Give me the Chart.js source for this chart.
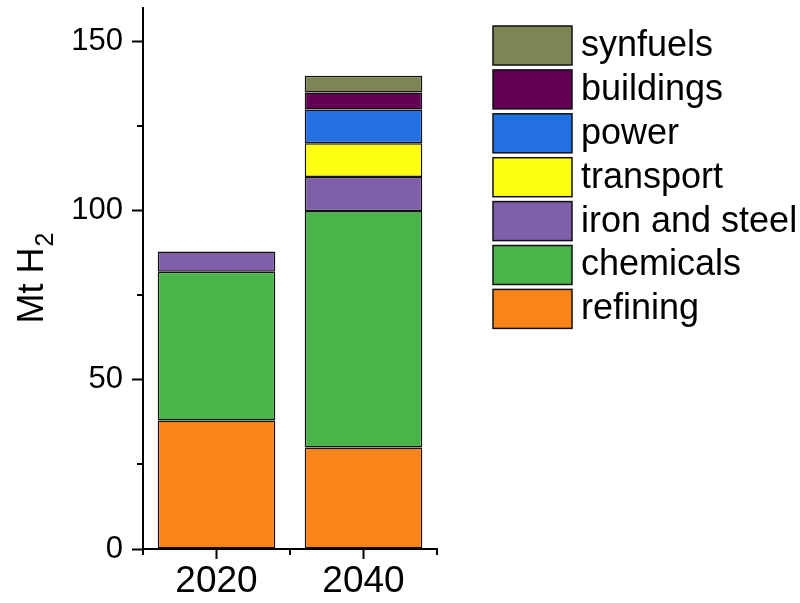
<!DOCTYPE html>
<html>
<head>
<meta charset="utf-8">
<script src="https://cdn.jsdelivr.net/npm/chart.js@4"></script>
<style>
  html, body { margin: 0; padding: 0; background: #fff; }
  #wrap { width: 800px; height: 603px; }
</style>
</head>
<body>
<div id="wrap"><canvas id="h2Chart" width="800" height="603"></canvas></div>
<script>
const years = ['2020', '2040'];

const refining = [38, 30];
const chemicals = [44, 70];
const ironSteel = [6, 10];
const transport = [0, 10];
const power = [0, 10];
const buildings = [0, 5];
const synfuels = [0, 5];

const yTicks = [0, 25, 50, 75, 100, 125, 150];

const FONT = 'Arial, "Liberation Sans", sans-serif';

function series(label, data, color) {
    return {
        label: label,
        data: data,
        backgroundColor: color,
        borderColor: '#111',
        borderWidth: 1.5,
        borderSkipped: false,
        barPercentage: 0.8,
        categoryPercentage: 1.0
    };
}

// minor ticks, y title and legend are drawn here
const extras = {
    id: 'extras',
    afterDraw(chart) {
        const ctx = chart.ctx;
        const x = chart.scales.x;
        const y = chart.scales.y;
        ctx.save();
        ctx.strokeStyle = '#000';
        ctx.lineWidth = 2;

        // minor y ticks
        yTicks.filter(v => v % 50 !== 0).forEach(v => {
            const py = Math.round(y.getPixelForValue(v));
            ctx.beginPath();
            ctx.moveTo(x.left - 6, py);
            ctx.lineTo(x.left, py);
            ctx.stroke();
        });

        // minor x ticks at category edges
        const half = (x.getPixelForValue(1) - x.getPixelForValue(0)) / 2;
        [x.getPixelForValue(0) - half, x.getPixelForValue(0) + half, x.getPixelForValue(1) + half].forEach(px => {
            ctx.beginPath();
            ctx.moveTo(px, y.bottom);
            ctx.lineTo(px, y.bottom + 6);
            ctx.stroke();
        });

        // y title: Mt H2 with subscript
        ctx.translate(43, (y.top + y.bottom) / 2);
        ctx.rotate(-Math.PI / 2);
        ctx.fillStyle = '#000';
        ctx.textBaseline = 'alphabetic';
        const main = 'Mt H';
        ctx.font = '36px ' + FONT;
        const w1 = ctx.measureText(main).width;
        ctx.font = '25px ' + FONT;
        const w2 = ctx.measureText('2').width;
        const start = -(w1 + w2) / 2;
        ctx.font = '36px ' + FONT;
        ctx.fillText(main, start, 0);
        ctx.font = '25px ' + FONT;
        ctx.fillText('2', start + w1 + 1, 10);
        ctx.restore();

        // legend, reversed order
        ctx.save();
        const ds = chart.data.datasets.slice().reverse();
        ds.forEach((d, i) => {
            const top = 26 + i * 43.9;
            ctx.fillStyle = d.backgroundColor;
            ctx.fillRect(493, top, 79, 39);
            ctx.strokeStyle = '#111';
            ctx.lineWidth = 1.5;
            ctx.strokeRect(493, top, 79, 39);
            ctx.fillStyle = '#000';
            ctx.font = '36px ' + FONT;
            ctx.textBaseline = 'middle';
            ctx.fillText(d.label, 581, top + 20);
        });
        ctx.restore();
    }
};

const chart = new Chart(document.getElementById('h2Chart'), {
    type: 'bar',
    data: {
        labels: years,
        datasets: [
            series('refining', refining, '#F9841A'),
            series('chemicals', chemicals, '#4AB44A'),
            series('iron and steel', ironSteel, '#7F5FA8'),
            series('transport', transport, '#FFFF14'),
            series('power', power, '#2270E2'),
            series('buildings', buildings, '#610052'),
            series('synfuels', synfuels, '#7F8455')
        ]
    },
    options: {
        responsive: false,
        animation: false,
        layout: { padding: { top: 8, right: 363, left: 0, bottom: 0 } },
        plugins: {
            legend: { display: false },
            tooltip: { enabled: false }
        },
        scales: {
            x: {
                stacked: true,
                afterFit: s => { s.height = 54; s.paddingLeft = 0; s.paddingRight = 0; },
                border: { display: true, color: '#000', width: 2 },
                grid: {
                    display: true,
                    offset: false,
                    drawOnChartArea: false,
                    drawTicks: true,
                    tickLength: 10,
                    tickWidth: 2,
                    tickColor: '#000'
                },
                ticks: {
                    color: '#000',
                    padding: 1,
                    font: { family: FONT, size: 37 }
                }
            },
            y: {
                stacked: true,
                min: 0,
                max: 160,
                afterFit: s => { s.width = 143; s.paddingTop = 0; s.paddingBottom = 0; },
                afterBuildTicks: s => { s.ticks = yTicks.map(v => ({ value: v })); },
                border: { display: true, color: '#000', width: 2 },
                grid: {
                    display: true,
                    drawOnChartArea: false,
                    drawTicks: true,
                    tickLength: 11,
                    tickWidth: 2,
                    tickColor: c => (c.tick && c.tick.value % 50 === 0) ? '#000' : 'rgba(0,0,0,0)'
                },
                ticks: {
                    color: '#000',
                    padding: 9,
                    font: { family: FONT, size: 31 },
                    callback: v => (v % 50 === 0 ? String(v) : '')
                }
            }
        }
    },
    plugins: [extras]
});
</script>
</body>
</html>
